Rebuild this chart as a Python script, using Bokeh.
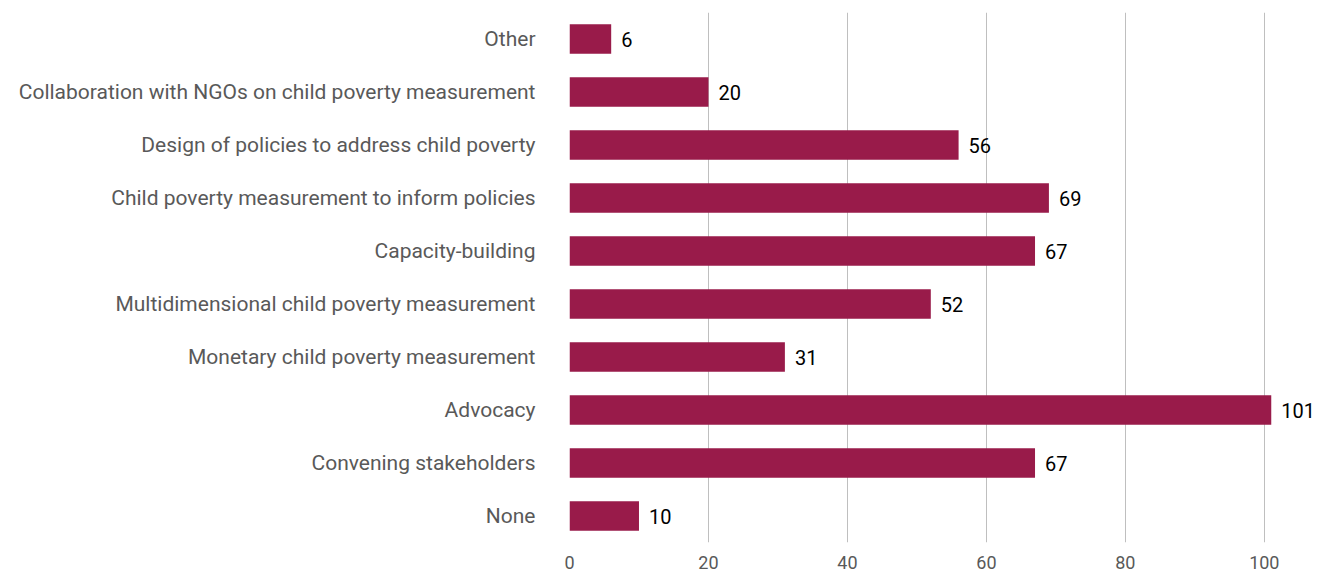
from bokeh.plotting import figure
from bokeh.models import FactorRange, Range1d, FixedTicker, ColumnDataSource
from bokeh.core.properties import value
from bokeh.embed import file_html
from bokeh.resources import INLINE

categories = [
    "Other",
    "Collaboration with NGOs on child poverty measurement",
    "Design of policies to address child poverty",
    "Child poverty measurement to inform policies",
    "Capacity-building",
    "Multidimensional child poverty measurement",
    "Monetary child poverty measurement",
    "Advocacy",
    "Convening stakeholders",
    "None",
]
counts = [6, 20, 56, 69, 67, 52, 31, 101, 67, 10]
x_ticks = [0, 20, 40, 60, 80, 100]

src = ColumnDataSource(data=dict(cat=categories, val=counts, lbl=[str(v) for v in counts]))

p = figure(
    width=1318, height=571,
    y_range=FactorRange(factors=list(reversed(categories)), range_padding=0),
    x_range=Range1d(0, 107.8),
    output_backend="svg", toolbar_location=None,
    min_border_left=569, min_border_right=0, min_border_top=12, min_border_bottom=26,
)
p.outline_line_color = None

p.hbar(y="cat", right="val", left=0, height=0.56, source=src,
       fill_color="#991B4A", line_color=None)
p.text(x="val", y="cat", text="lbl", source=src, x_offset=10,
       text_baseline="middle", text_align="left", text_color="#000000",
       text_font=value("Roboto"), text_font_size="20px")

p.xaxis.ticker = FixedTicker(ticks=x_ticks)
p.xaxis.axis_line_color = None
p.xaxis.major_tick_line_color = None
p.xaxis.minor_tick_line_color = None
p.xaxis.major_label_text_color = "#595959"
p.xaxis.major_label_text_font = "Roboto"
p.xaxis.major_label_text_font_size = "18px"
p.xaxis.major_label_standoff = 7

p.yaxis.axis_line_color = None
p.yaxis.major_tick_line_color = None
p.yaxis.minor_tick_line_color = None
p.yaxis.major_label_text_color = "#595959"
p.yaxis.major_label_text_font = "Roboto"
p.yaxis.major_label_text_font_size = "21px"
p.yaxis.major_label_standoff = 28

p.xgrid.ticker = FixedTicker(ticks=x_ticks)
p.xgrid.grid_line_color = "#BFBFBF"
p.xgrid.grid_line_width = 1
p.ygrid.grid_line_color = None

open("out.html", "w").write(file_html(p, INLINE))
